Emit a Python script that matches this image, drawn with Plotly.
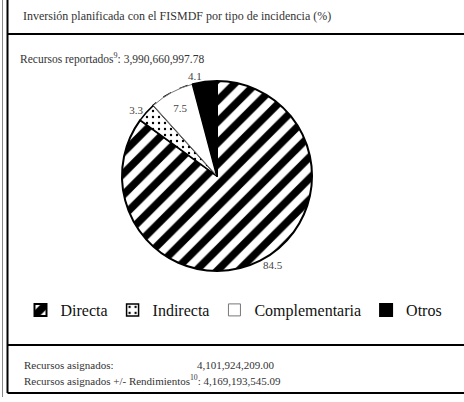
import numpy as np
import plotly.graph_objects as go

# Inversión por tipo de incidencia (%)
categorias = ["Directa", "Indirecta", "Complementaria", "Otros"]
porcentajes = [84.5, 3.3, 7.5, 4.1]
posicion_texto = ["outside", "outside", "inside", "outside"]

titulo = "Inversión planificada con el FISMDF por tipo de incidencia (%)"
recursos_reportados = "3,990,660,997.78"
recursos_asignados = "4,101,924,209.00"
recursos_rendimientos = "4,169,193,545.09"

W, H = 464, 402
SERIF = "Liberation Serif, DejaVu Serif, serif"

# pie placement in pixels
CX, CY, R = 217, 176, 95


def px(x):
    return x / W


def py(y):
    return 1 - y / H


fig = go.Figure()

fig.add_trace(go.Pie(
    labels=categorias,
    values=porcentajes,
    sort=False,
    direction="clockwise",
    rotation=0,
    texttemplate="%{value}",
    textposition=posicion_texto,
    textfont=dict(family=SERIF, size=11, color="#444"),
    insidetextorientation="horizontal",
    marker=dict(
        colors=["white", "white", "white", "black"],
        line=dict(color=["black", "black", "#777", "black"], width=[2, 1.5, 1, 2]),
        pattern=dict(
            shape=["/", ".", "", ""],
            fgcolor="black",
            bgcolor="white",
            size=[15, 6, 8, 8],
            solidity=[0.5, 0.12, 0.3, 0.3],
        ),
    ),
    domain=dict(x=[px(CX - R), px(CX + R)], y=[py(CY + R), py(CY - R)]),
    showlegend=True,
    hoverinfo="label+value",
))

# dashed outer edge of the "Complementaria" slice, from the cumulative shares
vals = np.array(porcentajes, dtype=float)
frac = np.concatenate([[0], np.cumsum(vals) / vals.sum()])
k = categorias.index("Complementaria")
ang = np.linspace(frac[k], frac[k + 1], 40) * 2 * np.pi
arc_x = CX + R * np.sin(ang)
arc_y = CY - R * np.cos(ang)
fig.add_trace(go.Scatter(
    x=np.concatenate([[CX], arc_x[:1], arc_x]),
    y=np.concatenate([[CY], arc_y[:1], arc_y]),
    mode="lines",
    line=dict(color="black", width=2, dash="dash"),
    showlegend=False,
    hoverinfo="skip",
))

shapes = [
    # thin gray outer rule
    dict(type="line", xref="paper", yref="paper", x0=px(2.5), x1=px(2.5),
         y0=py(0), y1=py(397), line=dict(color="#888", width=1)),
    # box left edge
    dict(type="line", xref="paper", yref="paper", x0=px(7.5), x1=px(7.5),
         y0=py(0), y1=py(393), line=dict(color="black", width=2)),
    # separators
    dict(type="line", xref="paper", yref="paper", x0=px(7.5), x1=1,
         y0=py(34), y1=py(34), line=dict(color="black", width=2)),
    dict(type="line", xref="paper", yref="paper", x0=px(7.5), x1=1,
         y0=py(345), y1=py(345), line=dict(color="black", width=2)),
    dict(type="line", xref="paper", yref="paper", x0=px(7.5), x1=1,
         y0=py(393), y1=py(393), line=dict(color="black", width=2)),
]


def nota(texto, x, y, size=11, color="#333"):
    return dict(text=texto, xref="paper", yref="paper", x=px(x), y=py(y),
                xanchor="left", yanchor="middle", showarrow=False,
                font=dict(family=SERIF, size=size, color=color))


annotations = [
    nota(titulo, 21, 16, size=12),
    nota(f"Recursos reportados<sup>9</sup>: {recursos_reportados}", 18, 58, size=11.5),
    nota("Recursos asignados:", 22, 365),
    nota(recursos_asignados, 195, 365),
    nota(f"Recursos asignados +/- Rendimientos<sup>10</sup>: {recursos_rendimientos}",
         22, 380),
]

fig.update_layout(
    width=W, height=H,
    margin=dict(l=0, r=0, t=0, b=0),
    font=dict(family=SERIF, color="#222"),
    paper_bgcolor="white",
    plot_bgcolor="rgba(0,0,0,0)",
    xaxis=dict(range=[0, W], domain=[0, 1], visible=False, fixedrange=True),
    yaxis=dict(range=[H, 0], domain=[0, 1], visible=False, fixedrange=True),
    shapes=shapes,
    annotations=annotations,
    legend=dict(
        orientation="h",
        x=px(234), xanchor="center",
        y=py(310), yanchor="middle",
        font=dict(family=SERIF, size=16, color="#111"),
        itemwidth=30,
        tracegroupgap=0,
        bgcolor="rgba(0,0,0,0)",
    ),
)

fig.write_html("out.html")
